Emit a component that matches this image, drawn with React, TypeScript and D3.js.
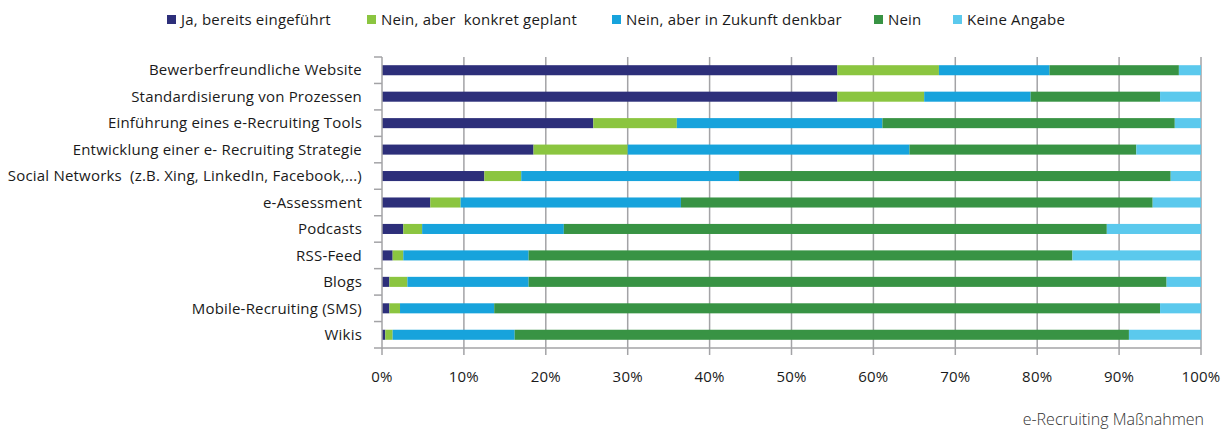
import React, { useEffect, useRef } from 'react';
import * as d3 from 'd3';

const categories = [
  'Bewerberfreundliche Website',
  'Standardisierung von Prozessen',
  'Einführung eines e-Recruiting Tools',
  'Entwicklung einer e- Recruiting Strategie',
  'Social Networks  (z.B. Xing, LinkedIn, Facebook,...)',
  'e-Assessment',
  'Podcasts',
  'RSS-Feed',
  'Blogs',
  'Mobile-Recruiting (SMS)',
  'Wikis',
];

const seriesNames = [
  'Ja, bereits eingeführt',
  'Nein, aber  konkret geplant',
  'Nein, aber in Zukunft denkbar',
  'Nein',
  'Keine Angabe',
];

// percentages per category, in series order
const ja = [55.6, 55.6, 25.8, 18.5, 12.5, 5.9, 2.6, 1.3, 0.9, 0.9, 0.4];
const geplant = [12.4, 10.6, 10.2, 11.5, 4.5, 3.7, 2.3, 1.3, 2.2, 1.3, 0.9];
const denkbar = [13.5, 13.0, 25.1, 34.4, 26.6, 26.9, 17.3, 15.3, 14.8, 11.5, 14.9];
const nein = [15.8, 15.8, 35.7, 27.7, 52.7, 57.6, 66.3, 66.4, 77.9, 81.3, 75.0];
const keine = [2.7, 5.0, 3.2, 7.9, 3.7, 5.9, 11.5, 15.7, 4.2, 5.0, 8.8];

const xTicks = [0, 10, 20, 30, 40, 50, 60, 70, 80, 90, 100];

const colors = ['#2d2f7a', '#8bc540', '#17a3dc', '#389344', '#5bc9ed'];

const W = 1226, H = 434;
const margin = { left: 382, right: 25, top: 57, bottom: 86 };

export default function App() {
  const ref = useRef<SVGSVGElement>(null);

  useEffect(() => {
    document.body.style.margin = '0';
    const svg = d3.select(ref.current);
    svg.selectAll('*').remove();

    const font = '"Open Sans", Lato, sans-serif';
    const fs = 15;
    const ls = '0.2px';

    const x = d3.scaleLinear().domain([0, 100]).range([margin.left, W - margin.right]);
    const y = d3.scaleBand<string>()
      .domain(categories)
      .range([margin.top, H - margin.bottom])
      .paddingInner(0.62)
      .paddingOuter(0.31);

    const rows = categories.map((c, i) => ({
      cat: c, s0: ja[i], s1: geplant[i], s2: denkbar[i], s3: nein[i], s4: keine[i],
    }));
    const stack = d3.stack<any>().keys(['s0', 's1', 's2', 's3', 's4']);
    const layers = stack(rows);

    // gridlines
    svg.append('g')
      .selectAll('line')
      .data(xTicks.slice(1))
      .join('line')
      .attr('x1', d => x(d)).attr('x2', d => x(d))
      .attr('y1', margin.top).attr('y2', H - margin.bottom)
      .attr('stroke', '#a3a3a6').attr('stroke-width', 1.5);

    // bars
    svg.append('g')
      .selectAll('g')
      .data(layers)
      .join('g')
      .attr('fill', (d, i) => colors[i])
      .selectAll('rect')
      .data(d => d)
      .join('rect')
      .attr('x', d => x(d[0]))
      .attr('width', d => x(d[1]) - x(d[0]))
      .attr('y', (d: any) => y(d.data.cat)!)
      .attr('height', y.bandwidth());

    // y axis
    const yAxisG = svg.append('g');
    yAxisG.append('line')
      .attr('x1', margin.left).attr('x2', margin.left)
      .attr('y1', margin.top).attr('y2', H - margin.bottom + 1)
      .attr('stroke', '#a3a3a6').attr('stroke-width', 1.5);
    const step = y.step();
    const bounds = d3.range(categories.length + 1).map(i => margin.top + i * step);
    yAxisG.selectAll('line.tk')
      .data(bounds)
      .join('line')
      .attr('class', 'tk')
      .attr('x1', margin.left - 8).attr('x2', margin.left)
      .attr('y1', d => d).attr('y2', d => d)
      .attr('stroke', '#a3a3a6').attr('stroke-width', 1.5);
    yAxisG.selectAll('text')
      .data(categories)
      .join('text')
      .attr('x', margin.left - 20)
      .attr('y', d => y(d)! + y.bandwidth() / 2)
      .attr('dy', '0.35em')
      .attr('text-anchor', 'end')
      .attr('font-family', font)
      .attr('font-size', fs)
      .attr('letter-spacing', ls)
      .attr('fill', '#1a1a1a')
      .style('white-space', 'pre')
      .text(d => d);

    // x axis
    const xAxisG = svg.append('g');
    const yb = H - margin.bottom;
    xAxisG.append('line')
      .attr('x1', margin.left).attr('x2', x(100))
      .attr('y1', yb).attr('y2', yb)
      .attr('stroke', '#a3a3a6').attr('stroke-width', 1.5);
    xAxisG.selectAll('line.tk')
      .data(xTicks)
      .join('line')
      .attr('class', 'tk')
      .attr('x1', d => x(d)).attr('x2', d => x(d))
      .attr('y1', yb).attr('y2', yb + 7)
      .attr('stroke', '#a3a3a6').attr('stroke-width', 1.5);
    xAxisG.selectAll('text')
      .data(xTicks)
      .join('text')
      .attr('x', d => x(d))
      .attr('y', yb + 34)
      .attr('text-anchor', 'middle')
      .attr('font-family', font)
      .attr('font-size', fs)
      .attr('letter-spacing', ls)
      .attr('fill', '#1a1a1a')
      .text(d => `${d}%`);

    // legend
    const legendX = [167, 367, 612, 874, 953];
    const lg = svg.append('g')
      .selectAll('g')
      .data(seriesNames)
      .join('g')
      .attr('transform', (d, i) => `translate(${legendX[i]},20)`);
    lg.append('rect')
      .attr('x', 0).attr('y', -5).attr('width', 9).attr('height', 9)
      .attr('fill', (d, i) => colors[i]);
    lg.append('text')
      .attr('x', 14)
      .attr('dy', '0.35em')
      .attr('font-family', font)
      .attr('font-size', fs)
      .attr('letter-spacing', ls)
      .attr('fill', '#1a1a1a')
      .style('white-space', 'pre')
      .text(d => d);

    // caption
    svg.append('text')
      .attr('x', 1204)
      .attr('y', 425)
      .attr('text-anchor', 'end')
      .attr('font-family', '"Open Sans", sans-serif')
      .attr('font-weight', 300)
      .attr('font-size', 16)
      .attr('fill', '#333')
      .text('e-Recruiting Maßnahmen');
  }, []);

  return <svg ref={ref} width={W} height={H} style={{ display: 'block', background: '#fff' }} />;
}
